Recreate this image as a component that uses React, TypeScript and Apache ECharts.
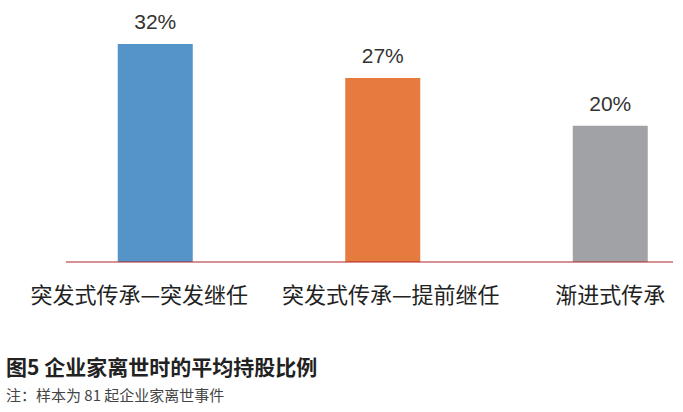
import React, { useEffect, useRef } from "react";
import * as echarts from "echarts";

const categories = ["突发式传承—突发继任", "突发式传承—提前继任", "渐进式传承"];
const values = [32, 27, 20];
const colors = ["#5594C9", "#E57B3F", "#A0A2A5"];
const title = "图5 企业家离世时的平均持股比例";
const note = "注：样本为 81 起企业家离世事件";

export default function App() {
  const ref = useRef<HTMLDivElement>(null);
  useEffect(() => {
    if (!ref.current) return;
    const chart = echarts.init(ref.current, null, { renderer: "svg" });
    const labelBase = { fontSize: 22, color: "#222", fontFamily: "Noto Sans CJK SC" };
    chart.setOption({
      animation: false,
      backgroundColor: "#ffffff",
      grid: { left: 41.5, right: 6, top: 23.6, bottom: 150, containLabel: false },
      xAxis: {
        type: "category",
        data: categories,
        axisLine: { show: false },
        axisTick: { show: false },
        axisLabel: {
          interval: 0,
          margin: 20,
          ...labelBase,
          formatter: (v: string, i: number) => {
            const key = i === 0 ? "a" : i === 1 ? "b" : "c";
            return `{${key}|${v}}`;
          },
          rich: {
            a: { ...labelBase, padding: [0, 32, 0, 0] },
            b: { ...labelBase, padding: [0, 0, 0, 16] },
            c: { ...labelBase },
          },
        },
      },
      yAxis: {
        type: "value",
        min: 0,
        max: 35,
        show: false,
        splitLine: { show: false },
      },
      graphic: [
        {
          type: "line",
          shape: { x1: 66, y1: 262, x2: 673, y2: 262 },
          style: { stroke: "#B0222A", lineWidth: 1.2 },
          z: 10,
        },
        {
          type: "text",
          left: 6,
          top: 355,
          style: {
            text: title,
            fontSize: 21,
            fontWeight: "bold",
            fill: "#222",
            fontFamily: "Noto Sans CJK SC",
          },
        },
        {
          type: "text",
          left: 6,
          top: 387,
          style: {
            text: note,
            fontSize: 15,
            fill: "#444",
            fontFamily: "Noto Sans CJK SC",
          },
        },
      ],
      series: [
        {
          type: "bar",
          barWidth: 75,
          data: values.map((v, i) => ({ value: v, itemStyle: { color: colors[i] } })),
          label: {
            show: true,
            position: "top",
            distance: 12,
            formatter: "{c}%",
            fontSize: 21,
            color: "#333",
            fontFamily: "Liberation Sans",
          },
        },
      ],
    });
    return () => chart.dispose();
  }, []);
  return (
    <div style={{ position: "fixed", left: 0, top: 0, width: 683, height: 412, overflow: "hidden", background: "#fff" }}>
      <div ref={ref} style={{ width: 730, height: 412 }} />
    </div>
  );
}
